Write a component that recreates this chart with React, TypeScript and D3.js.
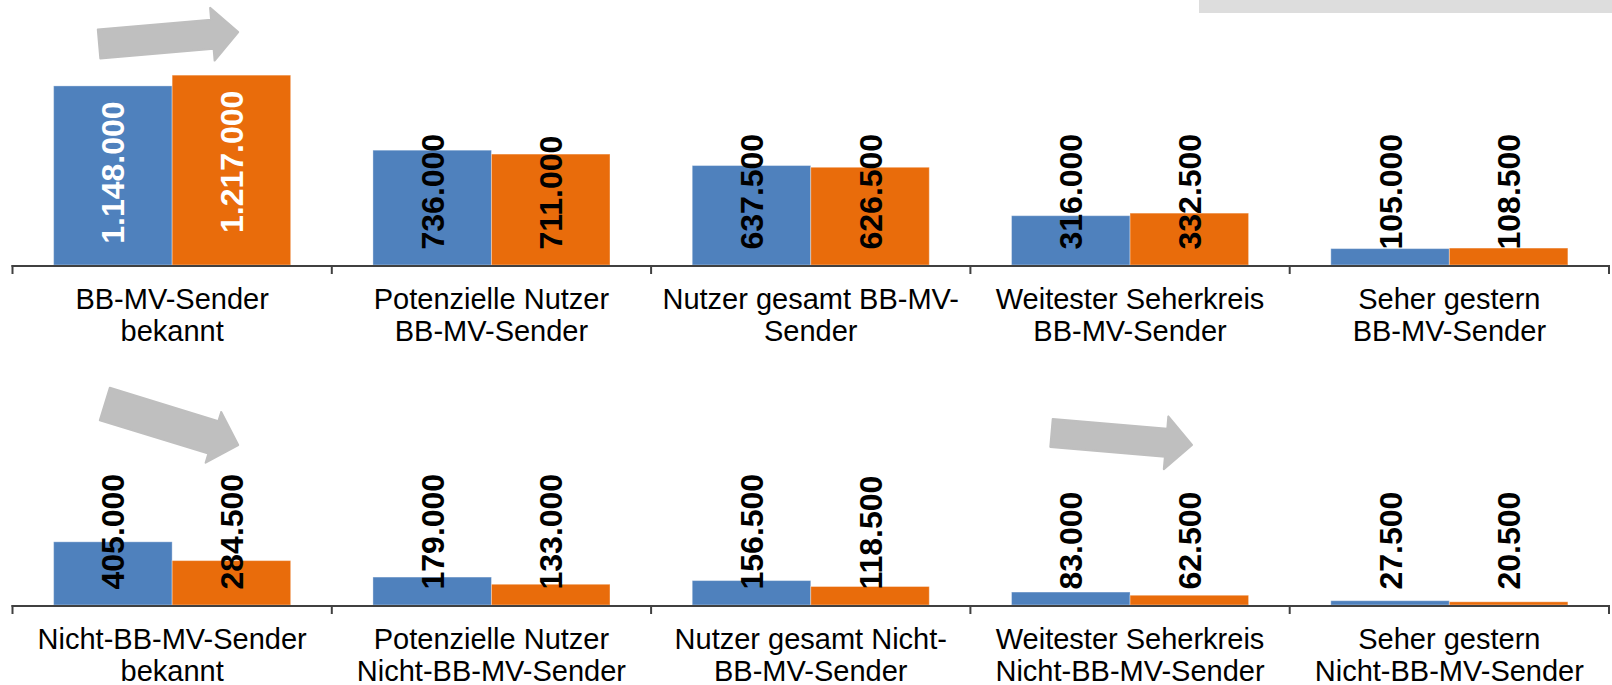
import React from "react";
import * as d3 from "d3";

const W = 1612;
const H = 685;

// ---------- data ----------
const seriesKeys = ["a", "b"];
const seriesColors = ["#4F81BD", "#E96C0B"];

const topCategories: string[][] = [
  ["BB-MV-Sender", "bekannt"],
  ["Potenzielle Nutzer", "BB-MV-Sender"],
  ["Nutzer gesamt BB-MV-", "Sender"],
  ["Weitester Seherkreis", "BB-MV-Sender"],
  ["Seher gestern", "BB-MV-Sender"],
];
const topSeriesA = [1148000, 736000, 637500, 316000, 105000];
const topSeriesB = [1217000, 711000, 626500, 332500, 108500];

const bottomCategories: string[][] = [
  ["Nicht-BB-MV-Sender", "bekannt"],
  ["Potenzielle Nutzer", "Nicht-BB-MV-Sender"],
  ["Nutzer gesamt Nicht-", "BB-MV-Sender"],
  ["Weitester Seherkreis", "Nicht-BB-MV-Sender"],
  ["Seher gestern", "Nicht-BB-MV-Sender"],
];
const bottomSeriesA = [405000, 179000, 156500, 83000, 27500];
const bottomSeriesB = [284500, 133000, 118500, 62500, 20500];

// trend arrows: category index, tail/tip as fraction of band, y offsets above axis
const topArrows = [
  { cat: 0, t0: 0.271, t1: 0.707, y0: 221, y1: 233, shaft: 29 },
];
const bottomArrows = [
  { cat: 0, t0: 0.289, t1: 0.707, y0: 201, y1: 160, shaft: 34 },
  { cat: 3, t0: 0.254, t1: 0.694, y0: 172, y1: 160, shaft: 28 },
];

// ---------- layout ----------
const X0 = 12.5;
const X1 = 1609;
const TOP_AXIS = 265;
const BOTTOM_AXIS = 605;
const VMAX = 1700000;
const FONT = "'Liberation Sans', Arial, Helvetica, sans-serif";

const fmt = d3
  .formatLocale({ decimal: ",", thousands: ".", grouping: [3], currency: ["", "€"] })
  .format(",d");

function arrowPath(tx: number, ty: number, hx: number, hy: number, shaft: number) {
  const dx = hx - tx;
  const dy = hy - ty;
  const len = Math.hypot(dx, dy);
  const ux = dx / len;
  const uy = dy / len;
  const px = -uy;
  const py = ux;
  const headLen = 26;
  const headHalf = 26.5;
  const sh = shaft / 2;
  const bx = hx - ux * headLen;
  const by = hy - uy * headLen;
  const pts: [number, number][] = [
    [tx + px * sh, ty + py * sh],
    [bx + px * sh, by + py * sh],
    [bx + px * headHalf, by + py * headHalf],
    [hx, hy],
    [bx - px * headHalf, by - py * headHalf],
    [bx - px * sh, by - py * sh],
    [tx - px * sh, ty - py * sh],
  ];
  return "M" + pts.map((p) => p[0].toFixed(1) + "," + p[1].toFixed(1)).join("L") + "Z";
}

function Panel({
  axisY,
  categories,
  a,
  b,
  arrows,
}: {
  axisY: number;
  categories: string[][];
  a: number[];
  b: number[];
  arrows: { cat: number; t0: number; t1: number; y0: number; y1: number; shaft: number }[];
}) {
  const x = d3
    .scaleBand<number>()
    .domain(categories.map((_, i) => i))
    .range([X0, X1])
    .paddingInner(0)
    .paddingOuter(0);
  const bw = x.bandwidth();
  const xs = d3.scaleBand<string>().domain(seriesKeys).range([0, bw]).paddingInner(0).paddingOuter(0.347);
  const y = d3.scaleLinear().domain([0, VMAX]).range([axisY, axisY - 265.2]);
  const values = [a, b];
  const fontSize = 32;
  const labelLen = (s: string) => {
    let l = 0;
    for (const c of s) l += c === "." ? 0.278 : 0.556;
    return l * fontSize;
  };

  const bars: any[] = [];
  const labels: any[] = [];
  categories.forEach((_, i) => {
    seriesKeys.forEach((k, si) => {
      const v = values[si][i];
      const bx = (x(i) as number) + (xs(k) as number);
      const w = xs.bandwidth();
      const top = y(v);
      const h = axisY - top;
      bars.push(
        <rect
          key={`b${i}${k}`}
          x={bx}
          y={top}
          width={w}
          height={h}
          fill={seriesColors[si]}
          stroke="#ffffff"
          strokeOpacity={0.35}
          strokeWidth={1}
        />
      );
      const text = fmt(v);
      const cx = bx + w / 2;
      const inside = h > labelLen(text) + 32;
      const ly = inside ? top + 15.5 : axisY - 15.5;
      labels.push(
        <text
          key={`l${i}${k}`}
          transform={`translate(${cx},${ly}) rotate(-90)`}
          dy="0.36em"
          textAnchor={inside ? "end" : "start"}
          fontFamily={FONT}
          fontWeight="bold"
          fontSize={fontSize}
          fill={inside ? "#ffffff" : "#000000"}
        >
          {text}
        </text>
      );
    });
  });

  const boundaries = categories.map((_, i) => x(i) as number).concat([X1]);

  return (
    <g>
      {arrows.map((ar, i) => {
        const bx0 = x(ar.cat) as number;
        return (
          <path
            key={`a${i}`}
            d={arrowPath(bx0 + ar.t0 * bw, axisY - ar.y0, bx0 + ar.t1 * bw, axisY - ar.y1, ar.shaft)}
            fill="#BFBFBF"
            stroke="#BFBFBF"
            strokeWidth={2}
            strokeLinejoin="round"
          />
        );
      })}
      {bars}
      <line x1={X0 - 1} x2={X1 + 1} y1={axisY + 1} y2={axisY + 1} stroke="#404040" strokeWidth={2} />
      {boundaries.map((bx, i) => (
        <line key={`t${i}`} x1={bx} x2={bx} y1={axisY} y2={axisY + 9} stroke="#404040" strokeWidth={2} />
      ))}
      {labels}
      {categories.map((lines, i) => (
        <text
          key={`c${i}`}
          x={(x(i) as number) + bw / 2}
          y={axisY + 44}
          textAnchor="middle"
          fontFamily={FONT}
          fontSize={29}
          fill="#000000"
        >
          {lines.map((ln, j) => (
            <tspan key={j} x={(x(i) as number) + bw / 2} dy={j === 0 ? 0 : 32}>
              {ln}
            </tspan>
          ))}
        </text>
      ))}
    </g>
  );
}

export default function App() {
  return (
    <svg
      width={W}
      height={H}
      viewBox={`0 0 ${W} ${H}`}
      style={{ position: "absolute", left: 0, top: 0, background: "#ffffff" }}
    >
      <rect x={0} y={0} width={W} height={H} fill="#ffffff" />
      <rect x={1199} y={0} width={W - 1199} height={13} fill="#DDDDDD" />
      <Panel axisY={TOP_AXIS} categories={topCategories} a={topSeriesA} b={topSeriesB} arrows={topArrows} />
      <Panel
        axisY={BOTTOM_AXIS}
        categories={bottomCategories}
        a={bottomSeriesA}
        b={bottomSeriesB}
        arrows={bottomArrows}
      />
    </svg>
  );
}
